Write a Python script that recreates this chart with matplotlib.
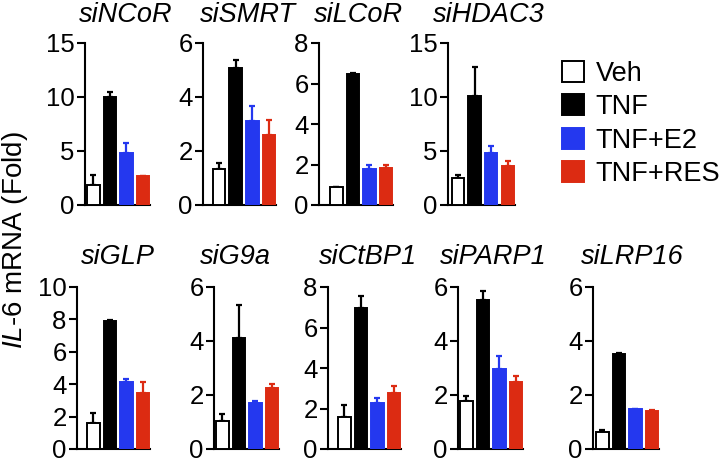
import matplotlib
matplotlib.use('Agg')
import matplotlib.pyplot as plt
from matplotlib.patches import Patch

plt.rcParams['font.family'] = 'Liberation Sans'
plt.rcParams['mathtext.fontset'] = 'custom'
plt.rcParams['mathtext.it'] = 'Liberation Sans:italic'
plt.rcParams['mathtext.rm'] = 'Liberation Sans'

# data
treatments = ['Veh', 'TNF', 'TNF+E2', 'TNF+RES']
panels = ['siNCoR', 'siSMRT', 'siLCoR', 'siHDAC3',
          'siGLP', 'siG9a', 'siCtBP1', 'siPARP1', 'siLRP16']
ymax = [15, 6, 8, 15, 10, 6, 8, 6, 6]
ystep = [5, 2, 2, 5, 2, 2, 2, 2, 2]
means = [[1.85, 10.0, 4.85, 2.65],
         [1.35, 5.07, 3.10, 2.61],
         [0.87, 6.45, 1.79, 1.84],
         [2.54, 10.06, 4.80, 3.62],
         [1.59, 7.90, 4.16, 3.44],
         [1.05, 4.11, 1.72, 2.25],
         [1.57, 6.96, 2.29, 2.76],
         [1.76, 5.51, 2.96, 2.48],
         [0.62, 3.53, 1.47, 1.41]]
errs = [[0.95, 0.45, 0.9, 0.0],
        [0.21, 0.31, 0.56, 0.55],
        [0.0, 0.05, 0.17, 0.15],
        [0.25, 2.75, 0.62, 0.47],
        [0.66, 0.05, 0.17, 0.72],
        [0.25, 1.21, 0.04, 0.15],
        [0.58, 0.58, 0.22, 0.33],
        [0.22, 0.33, 0.47, 0.24],
        [0.08, 0.02, 0.01, 0.03]]

# layout (pixels): axis line x, gap to first bar, row
axis_x = [85, 203, 319, 448, 77, 214, 328, 458, 593]
gap_px = [2, 10, 11, 4, 10, 2, 10, 2, 3]
row = [0, 0, 0, 0, 1, 1, 1, 1, 1]
title_x = [126, 248, 359, 489, 118, 235, 368, 493, 632]

W, H = 722, 462
face = ['white', 'black', '#2438ef', '#dc2b12']
edge = ['black', 'black', '#2438ef', '#dc2b12']
ecol = ['black', 'black', '#2438ef', '#dc2b12']
step = 16.5
bw = 12.5 / step

fig = plt.figure(figsize=(W / 100, H / 100), dpi=100)

row_top = [43, 287]
row_bot = [205, 449]
title_y = [15, 257]

for i, name in enumerate(panels):
    left = -bw / 2 - gap_px[i] / step
    right = 3 + bw / 2 + 1.0 / step
    wpx = (right - left) * step
    r = row[i]
    ax = fig.add_axes([axis_x[i] / W, 1 - row_bot[r] / H,
                       wpx / W, (row_bot[r] - row_top[r]) / H])
    x = range(4)
    ax.bar(x, means[i], width=bw, color=face, edgecolor=edge,
           linewidth=1.4, zorder=3)
    for j in range(4):
        ax.errorbar(j, means[i][j], yerr=[[0], [errs[i][j]]], color=ecol[j],
                    capsize=2.4, elinewidth=1.6, capthick=1.6, zorder=2)
    ax.set_xlim(left, right)
    ax.set_ylim(0, ymax[i])
    ax.set_yticks(range(0, ymax[i] + 1, ystep[i]))
    ax.set_xticks([])
    ax.spines['top'].set_visible(False)
    ax.spines['right'].set_visible(False)
    ax.spines['left'].set_linewidth(1.5)
    ax.spines['bottom'].set_linewidth(1.5)
    ax.tick_params(axis='y', length=5.5, width=1.5, labelsize=18.5, pad=2)
    ax.patch.set_alpha(0)
    fig.text(title_x[i] / W, 1 - title_y[r] / H, name, fontsize=19.5,
             style='italic', ha='center', va='center')

fig.text(15 / W, 1 - 240 / H, r'$\mathit{IL}$-6 mRNA (Fold)', fontsize=20,
         rotation=90, ha='center', va='center')

handles = [Patch(facecolor=face[k], edgecolor=edge[k], linewidth=1.4)
           for k in range(4)]
fig.legend(handles, treatments, loc='upper left',
           bbox_to_anchor=(562 / W, 1 - 61 / H), frameon=False,
           fontsize=19.5, borderpad=0, borderaxespad=0,
           handlelength=0.82, handleheight=0.82, handletextpad=0.42,
           labelspacing=0.27)

fig.savefig('out.png', dpi=100)
